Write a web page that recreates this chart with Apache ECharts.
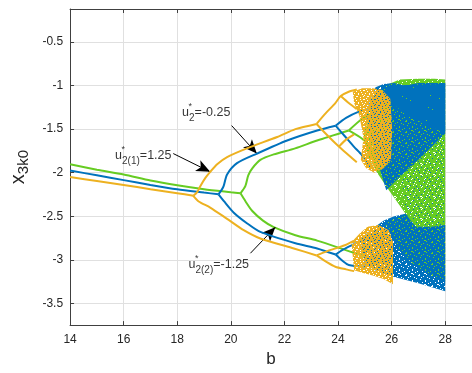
<!DOCTYPE html>
<html><head><meta charset="utf-8">
<script src="https://cdn.jsdelivr.net/npm/echarts@6/dist/echarts.min.js"></script>
<style>html,body{margin:0;padding:0;background:#fff}#c{width:472px;height:373px}</style>
</head><body><div id="c"></div>
<script>
// ---- ticks ----
const xTicks = [14, 16, 18, 20, 22, 24, 26, 28];
const yTicks = [-3.5, -3, -2.5, -2, -1.5, -1, -0.5];

// ---- green branches ----
const greenP1 = [[14,-1.903],[15,-1.965],[16,-2.02],[17,-2.09],[18,-2.145],[19,-2.19],[20,-2.225],[20.36,-2.237]];
const greenP2u = [[20.36,-2.237],[20.54,-2.155],[20.65,-2.03],[20.8,-1.95],[21.1,-1.853],[21.6,-1.79],[22.4,-1.72],[23.22,-1.63],[24.4,-1.515]];
const greenP2l = [[20.36,-2.237],[20.55,-2.33],[20.8,-2.44],[21.2,-2.55],[21.6,-2.625],[22.41,-2.718],[23.22,-2.78],[24.4,-2.90],[25.0,-2.96],[25.4,-2.99]];
const greenP4a = [[24.4,-1.515],[24.9,-1.38],[25.4,-1.29]];
const greenP4b = [[24.4,-1.515],[24.9,-1.61],[25.3,-1.72]];
// ---- blue branches ----
const blueP1 = [[14,-1.975],[15,-2.03],[16,-2.085],[17,-2.14],[18,-2.19],[19,-2.228],[19.54,-2.248]];
const blueP2u = [[19.54,-2.248],[19.65,-2.2],[19.73,-2.155],[19.86,-2.02],[20.23,-1.89],[20.98,-1.78],[22.1,-1.63],[23.22,-1.515],[23.91,-1.46]];
const blueP2l = [[19.54,-2.248],[19.75,-2.33],[20.1,-2.456],[20.6,-2.58],[21.1,-2.68],[22.41,-2.81],[23.22,-2.87],[23.91,-2.94]];
const blueP4a = [[23.91,-1.46],[24.3,-1.37],[24.84,-1.29],[25.1,-1.27]];
const blueP4b = [[23.91,-1.46],[24.28,-1.59],[24.59,-1.70],[24.9,-1.80],[25.2,-1.95]];
const blueP4c = [[23.91,-2.94],[24.2,-2.88],[24.53,-2.83],[25.03,-2.76]];
const blueP4d = [[23.91,-2.94],[24.2,-3.02],[24.4,-3.06],[25.03,-3.08]];
// ---- orange branches ----
const orangeP1 = [[14,-2.05],[15,-2.095],[16,-2.14],[17,-2.19],[18,-2.235],[18.6,-2.265]];
const orangeP2u = [[18.6,-2.265],[18.75,-2.22],[18.86,-2.155],[19.05,-2.06],[19.23,-1.99],[19.5,-1.90],[19.86,-1.82],[20.6,-1.72],[21.73,-1.59],[22.41,-1.50],[23.2,-1.44]];
const orangeP2l = [[18.6,-2.265],[18.8,-2.33],[19.23,-2.40],[19.86,-2.53],[20.48,-2.66],[21.1,-2.755],[22.35,-2.87],[23.2,-2.95]];
const orangeP4a = [[23.2,-1.44],[23.5,-1.33],[23.9,-1.2],[24.1,-1.12],[24.4,-1.07],[24.7,-1.045]];
const orangeP4b = [[23.2,-1.44],[23.6,-1.57],[24.03,-1.70],[24.4,-1.80],[24.7,-1.88]];
const orangeP4c = [[23.2,-2.95],[23.6,-2.9],[24.0,-2.86],[24.28,-2.83],[24.6,-2.78]];
const orangeP4d = [[23.2,-2.95],[23.6,-3.03],[23.9,-3.08],[24.3,-3.11],[24.6,-3.13]];
const orangeP8a = [[24.1,-1.12],[24.4,-1.2],[24.7,-1.27]];
const orangeP8b = [[24.03,-1.70],[24.3,-1.62],[24.6,-1.56]];

// ---- chaotic bands (outlines) ----
const greenChaos = [[25.2,-1.35],[25.5,-1.1],[25.9,-0.98],[26.3,-0.93],[27.0,-0.92],[27.6,-0.92],[28.0,-0.93],[28.0,-3.25],[27.4,-3.17],[26.8,-3.05],[26.2,-2.85],[25.75,-2.58],[26.52,-2.47],[25.9,-2.2],[25.46,-2.0],[25.1,-1.8],[24.95,-1.55]];
const blueUpper = [[25.2,-1.59],[25.05,-1.3],[25.4,-1.02],[25.7,-0.98],[26.1,-0.97],[26.5,-1.0],[27.0,-0.97],[28.0,-0.97],[28.0,-1.55],[27.0,-1.85],[26.3,-2.05],[25.8,-2.2]];
const blueUpperCore = [[25.6,-1.0],[28.0,-0.98],[28.0,-1.55],[26.6,-1.35],[26.0,-1.2]];
const blueLower = [[24.84,-2.76],[25.2,-2.66],[25.71,-2.55],[26.1,-2.5],[26.52,-2.47],[26.9,-2.62],[27.5,-2.62],[28.0,-2.6],[28.0,-3.36],[27.0,-3.27],[26.0,-3.19],[25.5,-3.14],[25.0,-3.05]];
const blueSparse = [[26.3,-1.9],[28.0,-1.55],[28.0,-2.6],[27.0,-2.6],[26.52,-2.47]];
const orangeUpper = [[24.55,-1.07],[24.9,-1.03],[25.3,-1.03],[25.65,-1.05],[25.95,-1.15],[26.02,-1.5],[25.98,-1.85],[25.7,-1.95],[25.35,-2.0],[25.05,-1.95],[24.85,-1.85],[24.95,-1.6],[24.8,-1.35],[24.6,-1.2]];
const orangeLower = [[24.5,-2.8],[24.8,-2.7],[25.1,-2.62],[25.5,-2.6],[25.9,-2.66],[26.05,-2.8],[26.05,-3.28],[25.7,-3.22],[25.3,-3.18],[24.9,-3.15],[24.6,-3.12]];

// ---- annotations ----
const labels = [
  {pos:[15.68,-1.80], sub:'2(1)', val:'=1.25'},
  {pos:[18.18,-1.309], sub:'2', val:'=-0.25'},
  {pos:[18.42,-3.057], sub:'2(2)', val:'=-1.25'}
];
const arrows = [
  [[17.85,-1.78],[19.23,-1.99]],
  [[20.03,-1.459],[20.97,-1.78]],
  [[20.73,-2.925],[21.66,-2.625]]
];

const GREEN = '#66cc22', BLUE = '#0072bd', ORANGE = '#edb120';

// texture tiles (style only)
function pattern(color, w, h, holes) {
  const c = document.createElement('canvas');
  c.width = w; c.height = h;
  const g = c.getContext('2d');
  g.fillStyle = color; g.fillRect(0, 0, w, h);
  holes.forEach(p => g.clearRect(p[0], p[1], p[2] || 1, p[3] || 1));
  return {image: c, repeat: 'repeat'};
}
function dots(color, w, h, pts) {
  const c = document.createElement('canvas');
  c.width = w; c.height = h;
  const g = c.getContext('2d');
  g.fillStyle = color;
  pts.forEach(p => g.fillRect(p[0], p[1], p[2] || 1, p[3] || 1));
  return {image: c, repeat: 'repeat'};
}
const greenFill = pattern(GREEN, 13, 11, [[1,1],[5,0],[9,2],[12,5],[3,4],[7,6],[0,8],[10,9],[4,9,2,1],[8,3],[6,10],[11,7]]);
const blueFill = pattern(BLUE, 13, 11, [[2,0,2,1],[7,1],[11,2],[0,3],[4,4],[9,5,1,2],[1,7],[6,7],[12,8],[3,10],[8,9,2,1],[5,2],[10,10]]);
const blueCoreFill = pattern(BLUE, 11, 9, [[3,1],[8,3],[1,5],[6,6],[10,8]]);
const blueSparseFill = dots(BLUE, 11, 9, [[1,1],[6,2],[3,5],[9,6],[0,8],[7,8]]);
const orangeFill = pattern(ORANGE, 11, 9, [[0,0,2,1],[4,1],[8,0],[2,3],[6,3,1,2],[10,4],[0,6],[4,6,2,1],[8,7],[3,8],[9,2],[1,5]]);

function poly(pts, fill, z) {
  return {
    type: 'custom', coordinateSystem: 'cartesian2d', silent: true, z: z, clip: true,
    data: [pts[0]],
    renderItem: (p, api) => ({type: 'polygon', shape: {points: pts.map(q => api.coord(q))}, style: {fill: fill}})
  };
}
function line(data, color, z) {
  return {type: 'line', data: data, showSymbol: false, silent: true, z: z, smooth: 0.25,
    lineStyle: {color: color, width: 2}, itemStyle: {color: color}};
}

const font = 'Arial, "Liberation Sans", Helvetica, sans-serif';
const series = [
  poly(greenChaos, greenFill, 2),
  line(greenP1, GREEN, 3), line(greenP2u, GREEN, 3), line(greenP2l, GREEN, 3), line(greenP4a, GREEN, 3), line(greenP4b, GREEN, 3),
  poly(blueUpper, blueFill, 4), poly(blueUpperCore, blueCoreFill, 4), poly(blueLower, blueFill, 4), poly(blueSparse, blueSparseFill, 4),
  line(blueP1, BLUE, 5), line(blueP2u, BLUE, 5), line(blueP2l, BLUE, 5), line(blueP4a, BLUE, 5), line(blueP4b, BLUE, 5), line(blueP4c, BLUE, 5), line(blueP4d, BLUE, 5),
  poly(orangeUpper, orangeFill, 6), poly(orangeLower, orangeFill, 6),
  line(orangeP1, ORANGE, 7), line(orangeP2u, ORANGE, 7), line(orangeP2l, ORANGE, 7), line(orangeP4a, ORANGE, 7), line(orangeP4b, ORANGE, 7), line(orangeP4c, ORANGE, 7), line(orangeP4d, ORANGE, 7), line(orangeP8a, ORANGE, 7), line(orangeP8b, ORANGE, 7),
  {
    type: 'line', data: [], z: 9, silent: true,
    markLine: {
      silent: true, animation: false,
      lineStyle: {color: '#000', width: 1, type: 'solid'},
      label: {show: false},
      data: arrows.map(a => [
        {coord: a[0], symbol: 'none'},
        {coord: a[1], symbol: 'arrow', symbolSize: [9, 14]}
      ])
    }
  }
];
labels.forEach(l => {
  series.push({
    type: 'scatter', z: 10, silent: true, symbolSize: 0, data: [l.pos],
    label: {show: true, position: 'right', distance: 0,
      formatter: '{m|u}{s|' + l.sub + '}{m|' + l.val + '}',
      rich: {m: {fontSize: 12.5, fontFamily: font, color: '#000'},
             s: {fontSize: 10, fontFamily: font, color: '#000', padding: [11, 0, 0, 0]}}}
  });
  series.push({
    type: 'scatter', z: 10, silent: true, symbolSize: 0, data: [l.pos],
    label: {show: true, position: 'right', distance: 0, offset: [6.5, -6],
      formatter: '*', fontSize: 9, fontFamily: font, color: '#000'}
  });
});

const axisCol = '#404040';
const chart = echarts.init(document.getElementById('c'));
chart.setOption({
  animation: false,
  backgroundColor: '#fff',
  grid: {left: 70, right: 0, top: 9, bottom: 42},
  xAxis: [{
    type: 'value', min: 14, max: 29, position: 'bottom',
    name: 'b', nameLocation: 'middle', nameGap: 25,
    nameTextStyle: {fontSize: 17, fontFamily: font, color: '#262626'},
    axisLine: {show: true, onZero: false, lineStyle: {color: axisCol, width: 1}},
    axisTick: {show: true, inside: true, length: 4, customValues: xTicks, lineStyle: {color: axisCol}},
    axisLabel: {customValues: xTicks, fontSize: 12, fontFamily: font, color: '#262626', margin: 9},
    splitLine: {show: true, lineStyle: {color: '#e0e0e0', width: 1}}
  }, {
    type: 'value', min: 14, max: 29, position: 'top',
    axisLine: {show: true, onZero: false, lineStyle: {color: axisCol, width: 1}},
    axisTick: {show: true, inside: true, length: 4, customValues: xTicks, lineStyle: {color: axisCol}},
    axisLabel: {show: false},
    splitLine: {show: false}
  }],
  yAxis: {
    type: 'value', min: -3.75, max: -0.12,
    name: 'x{s|3k0}', nameLocation: 'middle', nameGap: 36, nameRotate: 90,
    nameTextStyle: {fontSize: 20, fontFamily: font, color: '#262626',
      rich: {s: {fontSize: 15, fontFamily: font, color: '#262626', padding: [12, 0, 0, 0]}}},
    axisLine: {show: true, onZero: false, lineStyle: {color: axisCol, width: 1}},
    axisTick: {show: true, inside: true, length: 4, customValues: yTicks, lineStyle: {color: axisCol}},
    axisLabel: {customValues: yTicks, fontSize: 12, fontFamily: font, color: '#262626', margin: 7},
    splitLine: {show: true, lineStyle: {color: '#e0e0e0', width: 1}}
  },
  series: series
});
</script>
</body></html>
